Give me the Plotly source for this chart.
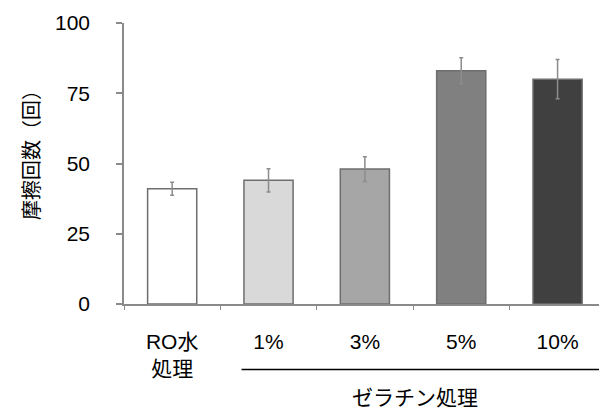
import plotly.graph_objects as go

# Rub count per treatment (mean ± error)
categories = ["RO水<br>処理", "1%", "3%", "5%", "10%"]
rub_counts = [41, 44, 48, 83, 80]
rub_errors = [2.3, 4.1, 4.4, 4.6, 7.0]
bar_colors = ["#ffffff", "#d9d9d9", "#a6a6a6", "#808080", "#404040"]
y_ticks = [0, 25, 50, 75, 100]
group_label = "ゼラチン処理"
y_title = "摩擦回数（回）"

FONT = "Liberation Sans, Arial, Noto Sans CJK JP, sans-serif"
AXIS_GRAY = "#8a8a8a"

fig = go.Figure()
fig.add_trace(go.Bar(
    x=categories,
    y=rub_counts,
    width=0.51,
    marker=dict(color=bar_colors, line=dict(color="#6e6e6e", width=1.5)),
    error_y=dict(type="data", array=rub_errors, visible=True,
                 color="#8c8c8c", thickness=1.5, width=2),
    showlegend=False,
))

fig.update_layout(
    width=599, height=410,
    margin=dict(l=124, r=0, t=23, b=106),
    paper_bgcolor="white", plot_bgcolor="white",
    font=dict(family=FONT, size=21, color="black"),
    bargap=0.49,
)

fig.update_xaxes(
    type="category",
    range=[-0.5, 4.43],
    showline=True, linecolor=AXIS_GRAY, linewidth=1.5,
    ticks="outside", tickson="boundaries", ticklen=4,
    tickcolor=AXIS_GRAY, tickwidth=1,
    ticklabelstandoff=18,
    showgrid=False, zeroline=False,
    tickfont=dict(size=21),
)

fig.update_yaxes(
    range=[0, 100],
    tickvals=y_ticks,
    showline=True, linecolor=AXIS_GRAY, linewidth=1.5,
    ticks="outside", ticklen=6, tickcolor=AXIS_GRAY, tickwidth=1.5,
    ticklabelstandoff=22,
    showgrid=False, zeroline=False,
    tickfont=dict(size=21),
)

# Y-axis title
fig.add_annotation(
    text=y_title, textangle=-90,
    xref="paper", yref="paper",
    x=(32 - 124) / 475, y=(304 - 150) / 281,
    xanchor="center", yanchor="middle",
    showarrow=False, font=dict(size=20),
)

# Bracket line under the gelatin group
fig.add_shape(
    type="line", xref="x", yref="paper",
    x0=0.72, x1=4.43, y0=(304 - 369.5) / 281, y1=(304 - 369.5) / 281,
    line=dict(color="black", width=1.5),
)

# Group label
fig.add_annotation(
    text=group_label, xref="x", yref="paper",
    x=2.52, y=(304 - 397) / 281,
    xanchor="center", yanchor="middle",
    showarrow=False, font=dict(size=21),
)

fig.write_html("out.html")
